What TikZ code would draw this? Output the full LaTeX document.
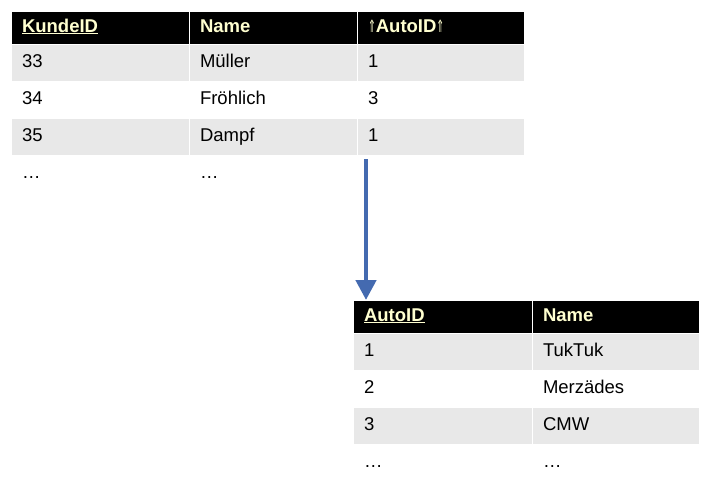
\documentclass[tikz,border=0pt]{standalone}
\usepackage{fontspec}
\setmainfont{Liberation Sans}
\newfontfamily\arrowfont{DejaVu Sans}
\usetikzlibrary{positioning, arrows.meta}
\definecolor{rowgrey}{RGB}{232,232,232}
\definecolor{headtext}{RGB}{255,255,208}
\definecolor{linkblue}{RGB}{68,106,176}
\newcommand{\pk}[1]{\setbox0\hbox{#1}\rlap{\rule[-2pt]{\wd0}{1.3pt}}#1} % underlined key
\newcommand{\fk}{{\arrowfont\mdseries\fontsize{17}{17}\selectfont\scalebox{0.55}[1]{⇑}}} % foreign key mark
\tikzset{every node/.style={font=\fontsize{18.5}{21}\selectfont}, % text size of all cells
cell/.style={draw=white, line width=1pt, outer sep=0pt, inner xsep=11pt, inner ysep=0pt,
  text height=13pt, text depth=4pt, align=left, text width=#1}, % one table cell
head/.style={cell=#1, fill=black, text=headtext,
  font=\fontsize{18.5}{21}\selectfont\bfseries, minimum height=33pt}, % header row
row/.style={cell=#1, minimum height=37pt}, % plain row
grey/.style={row=#1, fill=rowgrey}, % shaded row
link/.style={draw=linkblue, line width=4.5pt, -{Triangle[width=20pt, length=20pt]}}, % the reference arrow
}

\begin{document}
\begin{tikzpicture}[x=1pt, y=1pt]
  \useasboundingbox (0,0) rectangle (714,-482);

  % Kunde
  \node[head=156pt, anchor=north west] (k01) at (11,-11) {\pk{KundeID}};
  \node[head=146pt, right=0pt of k01] (k02) {Name};
  \node[head=145pt, right=0pt of k02] (k03) {\fk AutoID\fk};
  \node[grey=156pt, below=0pt of k01] (k11) {33};
  \node[grey=146pt, below=0pt of k02] (k12) {Müller};
  \node[grey=145pt, below=0pt of k03] (k13) {1};
  \node[row=156pt, below=0pt of k11] (k21) {34};
  \node[row=146pt, below=0pt of k12] (k22) {Fröhlich};
  \node[row=145pt, below=0pt of k13] (k23) {3};
  \node[grey=156pt, below=0pt of k21] (k31) {35};
  \node[grey=146pt, below=0pt of k22] (k32) {Dampf};
  \node[grey=145pt, below=0pt of k23] (k33) {1};
  \node[row=156pt, below=0pt of k31] (k41) {…};
  \node[row=146pt, below=0pt of k32] (k42) {…};

  % Auto
  \node[head=157pt, anchor=north west] (a01) at (353,-300) {\pk{AutoID}};
  \node[head=145pt, right=0pt of a01] (a02) {Name};
  \node[grey=157pt, below=0pt of a01] (a11) {1};
  \node[grey=145pt, below=0pt of a02] (a12) {TukTuk};
  \node[row=157pt, below=0pt of a11] (a21) {2};
  \node[row=145pt, below=0pt of a12] (a22) {Merzädes};
  \node[grey=157pt, below=0pt of a21] (a31) {3};
  \node[grey=145pt, below=0pt of a22] (a32) {CMW};
  \node[row=157pt, below=0pt of a31] (a41) {…};
  \node[row=145pt, below=0pt of a32] (a42) {…};

  \draw[link] ([xshift=9pt, yshift=-4pt]k33.south west) -- ([xshift=13pt]a01.north west);

\end{tikzpicture}
\end{document}
